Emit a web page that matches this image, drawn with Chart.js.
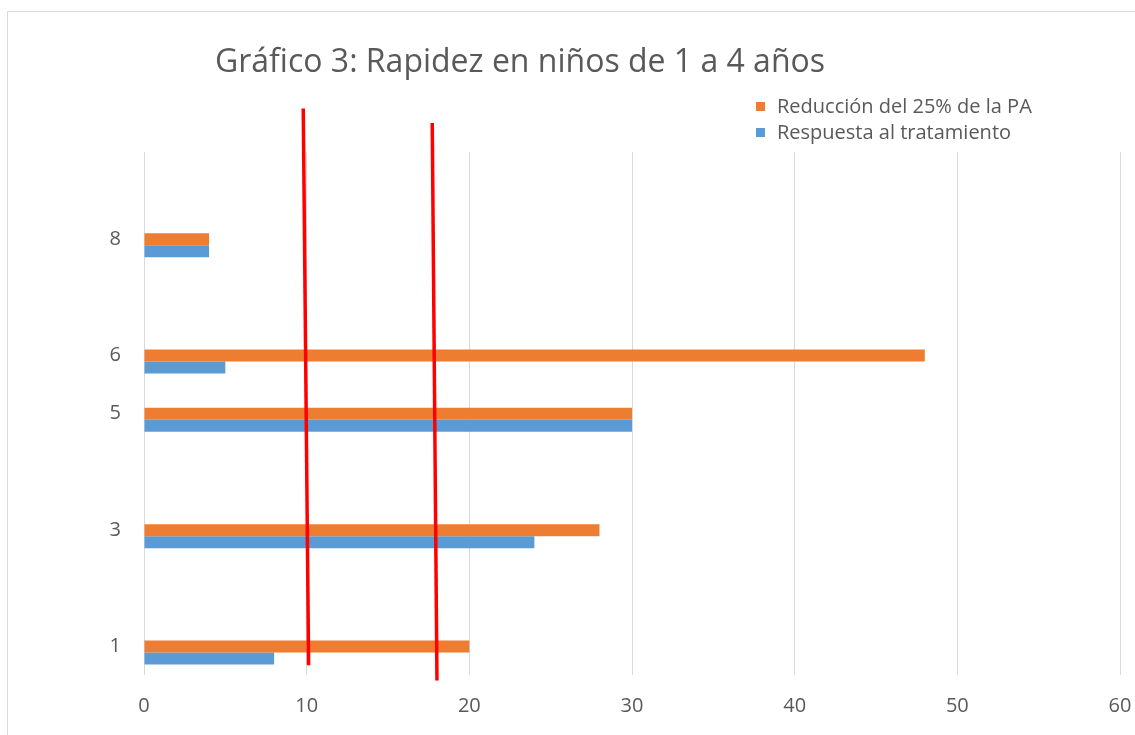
<!DOCTYPE html>
<html>
<head>
<meta charset="utf-8">
<script src="https://cdn.jsdelivr.net/npm/chart.js@4.4.1/dist/chart.umd.min.js"></script>
<style>
  html, body { margin: 0; padding: 0; background: #ffffff; }
</style>
</head>
<body>
<canvas id="grafico" width="1135" height="735"></canvas>
<script>
// Datos
const titulo = 'Gráfico 3: Rapidez en niños de 1 a 4 años';
const categorias = [1, 3, 5, 6, 8];
const reduccionPA = [20, 28, 30, 48, 4];
const respuestaTratamiento = [8, 24, 30, 5, 4];
const ticksX = [0, 10, 20, 30, 40, 50, 60];

// Líneas rojas dibujadas a mano sobre el gráfico (en unidades de datos: x, y)
const lineaRoja1 = [{ x: 9.79, y: 10.35 }, { x: 10.12, y: 0.78 }];
const lineaRoja2 = [{ x: 17.72, y: 10.10 }, { x: 18.01, y: 0.52 }];

const colorTexto = '#595959';
const fuente = 'Open Sans';

// Título y leyenda al estilo Excel (leyenda en dos filas arriba a la derecha)
const encabezado = {
  id: 'encabezado',
  beforeDraw(chart) {
    const ctx = chart.ctx;
    ctx.save();
    ctx.strokeStyle = '#d9d9d9';
    ctx.lineWidth = 1;
    ctx.beginPath();
    ctx.moveTo(7.5, 735);
    ctx.lineTo(7.5, 11.5);
    ctx.lineTo(1135, 11.5);
    ctx.stroke();
    ctx.restore();
  },
  afterDraw(chart) {
    const ctx = chart.ctx;
    ctx.save();
    ctx.fillStyle = colorTexto;
    ctx.textBaseline = 'alphabetic';
    ctx.textAlign = 'center';
    ctx.font = '32px "' + fuente + '"';
    ctx.fillText(titulo, 520, 72);

    ctx.textAlign = 'left';
    ctx.font = '20px "' + fuente + '"';
    chart.data.datasets.filter(ds => ds.type === 'bar').forEach((ds, i) => {
      const base = 113 + i * 26;
      ctx.fillStyle = ds.backgroundColor;
      ctx.fillRect(756, base - 11, 9, 9);
      ctx.fillStyle = colorTexto;
      ctx.fillText(ds.label, 777, base);
    });
    ctx.restore();
  }
};

new Chart(document.getElementById('grafico'), {
  data: {
    datasets: [
      {
        type: 'bar',
        label: 'Reducción del 25% de la PA',
        data: categorias.map((c, i) => ({ x: reduccionPA[i], y: c })),
        backgroundColor: '#ed7d31',
        borderWidth: 0,
        categoryPercentage: 0.412,
        barPercentage: 1.0
      },
      {
        type: 'bar',
        label: 'Respuesta al tratamiento',
        data: categorias.map((c, i) => ({ x: respuestaTratamiento[i], y: c })),
        backgroundColor: '#5b9bd5',
        borderWidth: 0,
        categoryPercentage: 0.412,
        barPercentage: 1.0
      },
      {
        type: 'line',
        label: 'linea1',
        data: lineaRoja1,
        borderColor: '#ff0000',
        borderWidth: 3.5,
        pointRadius: 0,
        clip: false,
        order: -1
      },
      {
        type: 'line',
        label: 'linea2',
        data: lineaRoja2,
        borderColor: '#ff0000',
        borderWidth: 3.5,
        pointRadius: 0,
        clip: false,
        order: -1
      }
    ]
  },
  options: {
    indexAxis: 'y',
    responsive: false,
    animation: false,
    layout: {
      padding: { top: 152, right: 15, bottom: 0, left: 0 }
    },
    scales: {
      x: {
        type: 'linear',
        position: 'bottom',
        min: 0,
        max: 60,
        afterBuildTicks: s => { s.ticks = ticksX.map(v => ({ value: v })); },
        afterFit: s => { s.height = 60; },
        grid: { color: '#d9d9d9', lineWidth: 1, drawTicks: false },
        border: { display: false },
        ticks: {
          color: colorTexto,
          font: { family: fuente, size: 20, lineHeight: 3.15 },
          padding: 0
        }
      },
      y: {
        type: 'linear',
        position: 'left',
        offset: false,
        min: 0.614,
        max: 9.602,
        afterBuildTicks: s => { s.ticks = categorias.map(v => ({ value: v })); },
        afterFit: s => { s.width = 144; },
        grid: { display: false, drawTicks: false, offset: false },
        border: { display: false },
        ticks: {
          color: colorTexto,
          font: { family: fuente, size: 20 },
          padding: 23,
          labelOffset: -6
        }
      }
    },
    plugins: {
      legend: { display: false },
      title: { display: false },
      tooltip: { enabled: false }
    }
  },
  plugins: [encabezado]
});
</script>
</body>
</html>
